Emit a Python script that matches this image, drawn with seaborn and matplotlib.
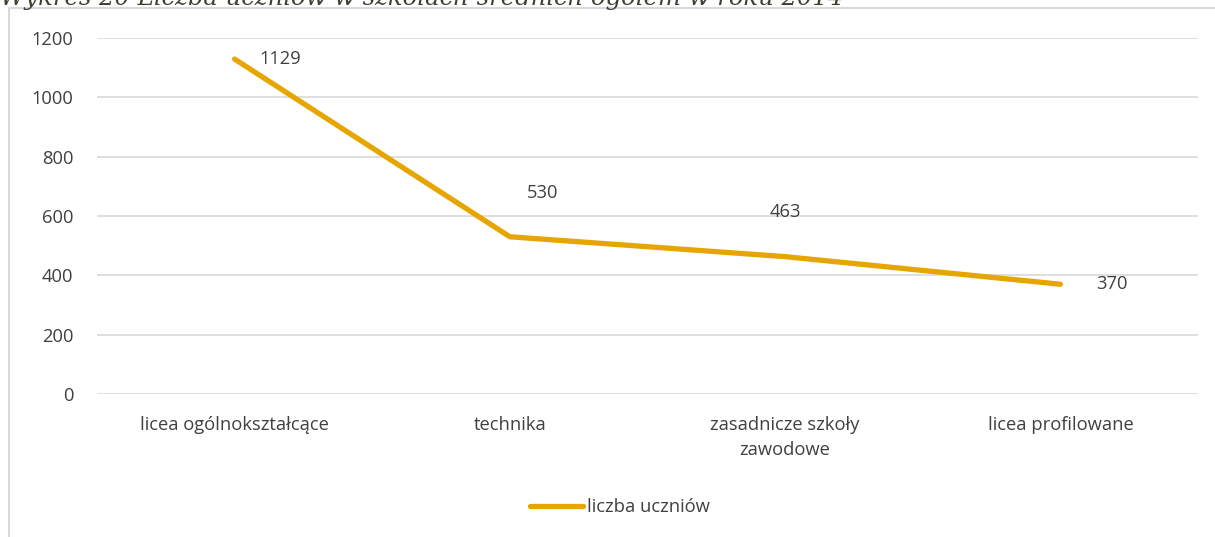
import matplotlib
matplotlib.use("Agg")
from matplotlib import pyplot as plt
from matplotlib.patches import Rectangle
import pandas as pd
import seaborn as sb

categories = ["licea ogólnokształcące", "technika", "zasadnicze szkoły zawodowe", "licea profilowane"]
tick_labels = ["licea ogólnokształcące", "technika", "zasadnicze szkoły\nzawodowe", "licea profilowane"]
students = [1129, 530, 463, 370]
series_name = "liczba uczniów"
title = "Wykres 20 Liczba uczniów w szkołach średnich ogółem w roku 2014"

data = pd.DataFrame({"typ": categories, "liczba": students})

sb.set_style("white")
plt.rcParams["font.family"] = ["Open Sans", "DejaVu Sans"]

line_color = "#E6A500"
text_color = "#404040"
grid_color = "#D9D9D9"
fs = 13.2

fig = plt.figure(figsize=(12.15, 5.37), dpi=100)

# chart frame (cut off at the right and bottom)
fig.patches.append(Rectangle((9 / 1215, -0.1), 1.2, 1 - 8 / 537 + 0.1, transform=fig.transFigure,
                             fill=False, edgecolor=grid_color, linewidth=1.5))

# title, cut off at the top of the picture like in the source
fig.text(0.0, 1 - 5 / 537, title, fontsize=17.5, style="italic", family="DejaVu Serif",
         color="#3F3F33", ha="left", va="baseline")

ax = fig.add_axes([97 / 1215, 1 - 394 / 537, (1198 - 97) / 1215, (394 - 38) / 537])
sb.lineplot(data=data, x="typ", y="liczba", ax=ax, color=line_color, linewidth=3.8,
            label=series_name, solid_capstyle="round", sort=False)

ax.set_xlim(-0.5, 3.5)
ax.set_ylim(0, 1200)
ax.set_yticks(range(0, 1201, 200))
ax.set_xticks(range(len(categories)))
ax.set_xticklabels(tick_labels, linespacing=1.45)
ax.set_xlabel("")
ax.set_ylabel("")
ax.grid(axis="y", color=grid_color, linewidth=1.2)
ax.set_axisbelow(True)
for s in ax.spines.values():
    s.set_visible(False)
ax.tick_params(axis="both", length=0, labelsize=fs, labelcolor=text_color)
ax.tick_params(axis="y", pad=17)
ax.tick_params(axis="x", pad=16)

# data labels (offsets in pixels)
offsets = [(25, 0, "left", "center"), (33, 44, "center", "center"),
           (0, 45, "center", "center"), (36, 0, "left", "center")]
for i, (v, off) in enumerate(zip(students, offsets)):
    ax.annotate(str(v), (i, v), xytext=(off[0], off[1]), textcoords="offset pixels",
                ha=off[2], va=off[3], fontsize=fs, color=text_color)

leg = ax.legend(loc="center", bbox_to_anchor=(0.475, 1 - (507 - 38) / (394 - 38)), frameon=False,
                fontsize=fs, handlelength=2.9, handletextpad=0.2)
for t in leg.get_texts():
    t.set_color(text_color)

fig.savefig("out.png", dpi=100)
